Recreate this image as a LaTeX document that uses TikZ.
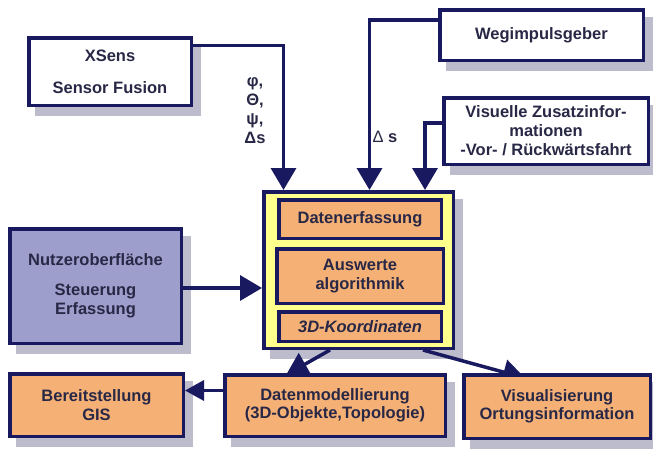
\documentclass[tikz,border=0pt]{standalone}
\usepackage{fontspec}
\setmainfont{Liberation Sans}
\usetikzlibrary{arrows.meta,shadows}
\definecolor{navy}{RGB}{25,25,95}
\definecolor{txt}{RGB}{40,40,70}
\definecolor{orangec}{RGB}{245,176,118}
\definecolor{yellowc}{RGB}{255,255,140}
\definecolor{lilac}{RGB}{158,158,204}
\definecolor{shadowc}{RGB}{188,188,204}
\begin{document}
\begin{tikzpicture}[x=1pt,y=-1pt,
  basebox/.style={draw=navy, line width=3.5pt, fill=white, text=txt, align=center, inner sep=0pt,
    font=\bfseries\fontsize{16.5}{18.5}\selectfont},
  box/.style={basebox, drop shadow={shadow xshift=8pt, shadow yshift=-9pt, fill=shadowc, draw=shadowc, line width=3.5pt, opacity=1}},
  obox/.style={box, fill=orangec},
  ibox/.style={basebox, fill=orangec},
  lbl/.style={text=txt, align=center, inner sep=0pt, font=\bfseries\fontsize{16.5}{19}\selectfont},
  arr/.style={draw=navy, line width=3.5pt, -{Triangle[length=22pt,width=25pt]}},
  arrsmall/.style={draw=navy, line width=3.5pt, -{Triangle[length=19pt,width=20pt]}}
]
\useasboundingbox (0,0) rectangle (653,450);

% top and left boxes
\node[box, minimum width=162.5pt, minimum height=67.5pt] (xsens) at (110,71.5) {XSens\\[13.5pt]Sensor Fusion};
\node[box, minimum width=203.5pt, minimum height=50.5pt] (weg) at (541.5,35) {Wegimpulsgeber};
\node[box, minimum width=204.5pt, minimum height=66.5pt, font=\bfseries\fontsize{16.5}{19}\selectfont] (vz) at (546,131) {Visuelle Zusatzinfor-\\mationen\\-Vor- / Rückwärtsfahrt};
\node[box, fill=lilac, minimum width=171.5pt, minimum height=114.5pt] (nutzer) at (95.5,286) {Nutzeroberfläche\\[11.5pt]Steuerung\\Erfassung};

% central block
\node[box, fill=yellowc, minimum width=189.5pt, minimum height=156.5pt] (central) at (358.5,270) {};
\node[ibox, minimum width=162.5pt, minimum height=38.5pt] (erf) at (360,219) {Datenerfassung};
\node[ibox, minimum width=166.5pt, minimum height=54.5pt] (ausw) at (360,276) {Auswerte\\algorithmik};
\node[ibox, minimum width=162.5pt, minimum height=29.5pt, font=\bfseries\itshape\fontsize{16.5}{18.5}\selectfont] (koord) at (360,326.5) {3D-Koordinaten};

% labels
\node[lbl] (angles) at (255,111) {φ,\\Θ,\\ψ,\\Δs};
\node[lbl] (ds) at (385,137) {{\mdseries Δ} s};

% inputs to central block
\draw[arr] ([yshift=-9.5pt]xsens.north east) -| ([xshift=21.5pt]central.north west);
\draw[arr] ([yshift=-12pt]weg.north west) -| ([xshift=107.5pt]central.north west);
\draw[arr] ([yshift=-27pt]vz.north west) -| ([xshift=163pt]central.north west);
\coordinate (nu) at ([yshift=-2pt]nutzer.east);
\draw[arr] (nu) -- (nu -| central.west);

% outputs (tips hidden under the boxes drawn afterwards)
\coordinate (dmtip) at (286,375);
\coordinate (vistip) at (525,378);
\draw[arr] ([xshift=-28.5pt]central.south) -- (dmtip);
\draw[arr] ([xshift=64.5pt]central.south) -- (vistip);

% bottom row
\node[obox, minimum width=173.5pt, minimum height=62.5pt] (bereit) at (96.5,405) {Bereitstellung\\GIS};
\node[obox, minimum width=220.5pt, minimum height=61.5pt] (dm) at (335,405.5) {Datenmodellierung\\(3D-Objekte,Topologie)};
\node[obox, minimum width=186.5pt, minimum height=63.5pt] (vis) at (557,406.5) {Visualisierung\\Ortungsinformation};

\coordinate (dmw) at ([yshift=15pt]dm.west);
\draw[arrsmall] (dmw) -- (dmw -| bereit.east);
\end{tikzpicture}
\end{document}
